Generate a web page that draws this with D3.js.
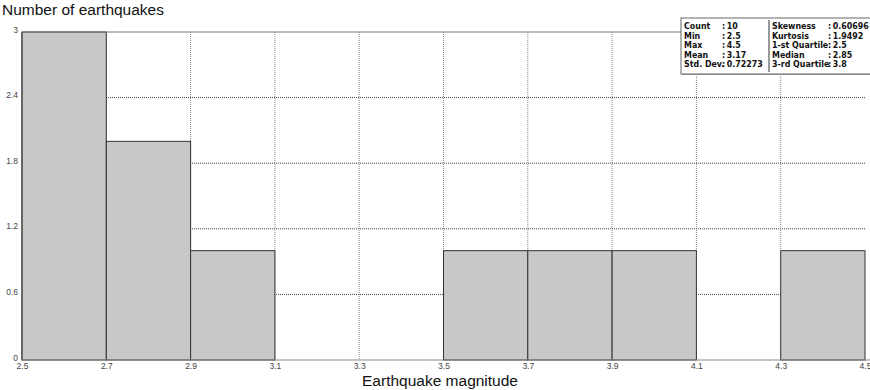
<!DOCTYPE html>
<html><head><meta charset="utf-8">
<script src="https://cdn.jsdelivr.net/npm/d3@7"></script>
<style>body{margin:0;background:#fff}svg{display:block}</style>
</head><body><svg id="c" width="870" height="390"></svg>
<script>
const binStarts = [2.5, 2.7, 2.9, 3.1, 3.3, 3.5, 3.7, 3.9, 4.1, 4.3];
const binWidth = 0.2;
const counts = [3, 2, 1, 0, 0, 1, 1, 1, 0, 1];
const xTicks = [2.5, 2.7, 2.9, 3.1, 3.3, 3.5, 3.7, 3.9, 4.1, 4.3, 4.5];
const yTicks = [0, 0.6, 1.2, 1.8, 2.4, 3];
const statsLeft = [["Count", "10"], ["Min", "2.5"], ["Max", "4.5"], ["Mean", "3.17"], ["Std. Dev.", "0.72273"]];
const statsRight = [["Skewness", "0.60696"], ["Kurtosis", "1.9492"], ["1-st Quartile", "2.5"], ["Median", "2.85"], ["3-rd Quartile", "3.8"]];

const svg = d3.select("#c");
const x = d3.scaleLinear().domain([2.5, 4.5]).range([22, 865]);
const y = d3.scaleLinear().domain([0, 3]).range([360, 32]);

// grid
svg.append("g").selectAll("line").data(xTicks.slice(1, -1)).join("line")
  .attr("x1", d => x(d)).attr("x2", d => x(d)).attr("y1", y(3)).attr("y2", y(0))
  .attr("stroke", "#888").attr("stroke-dasharray", "1,1");
svg.append("g").selectAll("line").data(yTicks.slice(1, -1)).join("line")
  .attr("x1", x(2.5)).attr("x2", x(4.5)).attr("y1", d => y(d)).attr("y2", d => y(d))
  .attr("stroke", "#444").attr("stroke-dasharray", "1,1");

// bars
svg.append("g").selectAll("rect").data(binStarts.map((s, i) => ({s, c: counts[i]})).filter(d => d.c > 0)).join("rect")
  .attr("x", d => x(d.s)).attr("width", d => x(d.s + binWidth) - x(d.s))
  .attr("y", d => y(d.c)).attr("height", d => y(0) - y(d.c))
  .attr("fill", "#c8c8c8").attr("stroke", "#333").attr("stroke-width", 1);

// frame
svg.append("line").attr("x1", x(2.5)).attr("x2", 870).attr("y1", y(3)).attr("y2", y(3)).attr("stroke", "#777");
svg.append("line").attr("x1", x(2.5)).attr("x2", 870).attr("y1", y(0)).attr("y2", y(0)).attr("stroke", "#888");
svg.append("line").attr("x1", x(2.5)).attr("x2", x(2.5)).attr("y1", y(3)).attr("y2", y(0)).attr("stroke", "#666").attr("stroke-width", 2);

// axes via d3
const xAxis = svg.append("g").attr("transform", `translate(0,${y(0)})`)
  .call(d3.axisBottom(x).tickValues(xTicks).tickFormat(d3.format(".1f")).tickSize(0).tickPadding(3));
xAxis.select(".domain").remove();
xAxis.selectAll("text").attr("font-family", "Arial, Liberation Sans, sans-serif").attr("font-size", 8.5).attr("fill", "#444");
const yAxis = svg.append("g").attr("transform", `translate(${x(2.5) - 1},0)`)
  .call(d3.axisLeft(y).tickValues(yTicks).tickFormat(d => d3.format("")(+d.toFixed(1))).tickSize(0).tickPadding(3));
yAxis.select(".domain").remove();
yAxis.selectAll("text").attr("font-family", "Arial, Liberation Sans, sans-serif").attr("font-size", 8.5).attr("fill", "#444").attr("dy", "0em");

// titles
svg.append("text").attr("x", 2).attr("y", 15).text("Number of earthquakes")
  .attr("font-family", "Arial, Liberation Sans, sans-serif").attr("font-size", 15.5).attr("fill", "#111");
svg.append("text").attr("x", 440).attr("y", 386).attr("text-anchor", "middle").text("Earthquake magnitude")
  .attr("font-family", "Arial, Liberation Sans, sans-serif").attr("font-size", 15.5).attr("fill", "#111");

// stats box
const bx = 681, by = 18, bh = 56;
svg.append("rect").attr("x", bx + 1).attr("y", by + 1).attr("width", 200).attr("height", bh).attr("fill", "#aaa");
svg.append("rect").attr("x", bx).attr("y", by).attr("width", 200).attr("height", bh).attr("fill", "#fff").attr("stroke", "#666");
svg.append("line").attr("x1", 769).attr("x2", 769).attr("y1", by + 2).attr("y2", by + bh - 2).attr("stroke", "#333");
const st = svg.append("g").attr("font-family", "DejaVu Sans Condensed, DejaVu Sans, sans-serif").attr("font-weight", "bold").attr("font-size", 8.8).attr("fill", "#111");
function col(rows, lx, cx) {
  rows.forEach((r, i) => {
    const yy = by + 11 + i * 9.5;
    st.append("text").attr("x", lx).attr("y", yy).text(r[0]);
    st.append("text").attr("x", cx).attr("y", yy).text(":\u2009" + r[1]);
  });
}
col(statsLeft, 684, 722);
col(statsRight, 772, 828);
</script></body></html>
